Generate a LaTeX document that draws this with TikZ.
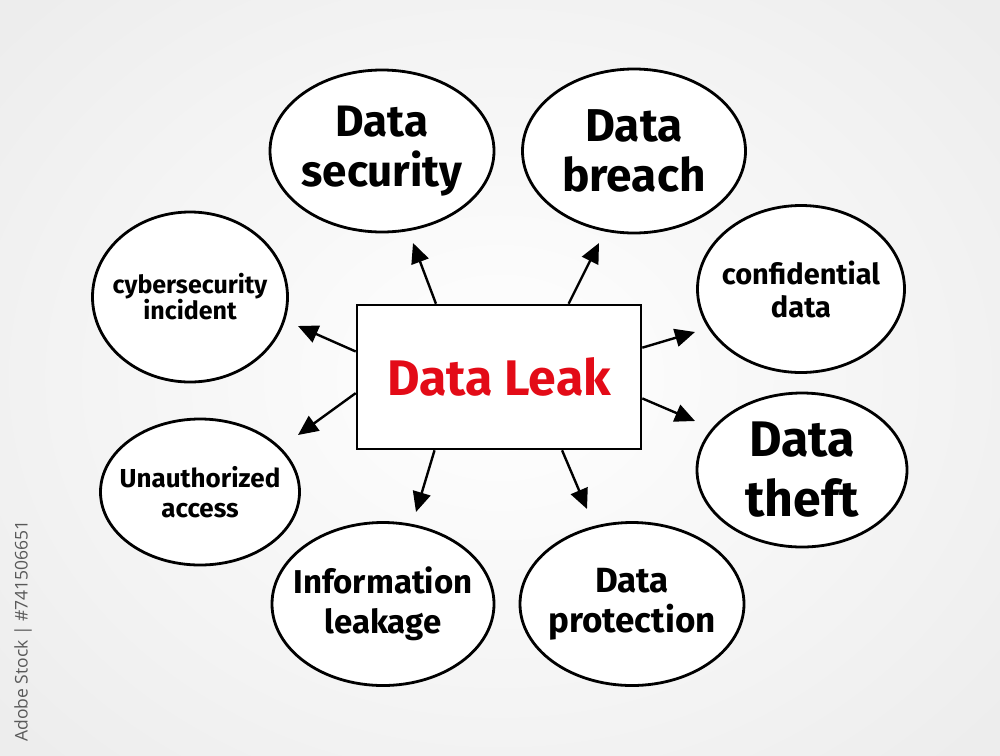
\documentclass[tikz,border=0pt]{standalone}
\usepackage{fontspec}
\setmainfont{Fira Sans}
\newfontfamily\wmfont{Open Sans}
\usetikzlibrary{arrows.meta,shapes.geometric,calc}
\definecolor{leakred}{HTML}{E30B17}
\begin{document}
\begin{tikzpicture}[x=1pt,y=-1pt,
  bub/.style={draw=black, line width=2.8pt, fill=white, ellipse, inner sep=0pt},
  txt/.style={align=center, text=black, font=\bfseries},
  arr/.style={draw=black, line width=2.4pt, -{Triangle[length=20pt,width=18pt]}},
  hub/.style={draw=black, line width=2.6pt, fill=white, rectangle, inner sep=0pt,
    minimum width=284pt, minimum height=144pt}]
\useasboundingbox (0,0) rectangle (1000,755);
\begin{scope}
\clip (0,0) rectangle (1000,755);
\shade[inner color=white, outer color=black!7] (-150,-150) rectangle (1150,905);
\end{scope}
\node[rotate=90, anchor=east, text=black!65, font=\wmfont\fontsize{17.5}{21}\selectfont, inner sep=0pt]
  (wm) at (23,520) {Adobe Stock | \#741506651};

% bubbles
\node[bub, minimum width=224pt, minimum height=162pt] (sec) at (382,151) {};
\node[bub, minimum width=223pt, minimum height=164pt] (bre) at (634,151) {};
\node[bub, minimum width=207pt, minimum height=167pt] (con) at (801,289) {};
\node[bub, minimum width=210pt, minimum height=154pt] (the) at (802,470) {};
\node[bub, minimum width=224pt, minimum height=163pt] (pro) at (632,604) {};
\node[bub, minimum width=222pt, minimum height=163pt] (inf) at (383,604) {};
\node[bub, minimum width=199pt, minimum height=146pt] (una) at (200,492) {};
\node[bub, minimum width=195pt, minimum height=170pt] (cyb) at (190,297) {};

% texts
\node[txt, font=\bfseries\fontsize{44}{50}\selectfont] at (sec) {Data\\security};
\node[txt, font=\bfseries\fontsize{46}{50}\selectfont] at (bre) {Data\\breach};
\node[txt, font=\bfseries\fontsize{29}{33}\selectfont] at (con) {confidential\\data};
\node[txt, font=\bfseries\fontsize{50}{60}\selectfont] at (the) {Data\\theft};
\node[txt, font=\bfseries\fontsize{35}{40}\selectfont] at (pro) {Data\\protection};
\node[txt, font=\bfseries\fontsize{33}{40}\selectfont] at (inf) {Information\\leakage};
\node[txt, font=\bfseries\fontsize{26}{30}\selectfont] at (una) {Unauthorized\\access};
\node[txt, font=\bfseries\fontsize{25}{26}\selectfont] at (cyb) {cybersecurity\\incident};

% hub
\node[hub] (box) at (499,377) {};
\node[text=leakred, font=\bfseries\fontsize{50}{56}\selectfont] (lbl) at (box) {Data Leak};

% arrow tips
\coordinate (t1) at (413,243);
\coordinate (t2) at (599,243);
\coordinate (t3) at (298,326);
\coordinate (t4) at (298,435);
\coordinate (t5) at (695,332);
\coordinate (t6) at (695,421);
\coordinate (t7) at (416,512);
\coordinate (t8) at (587,509);

\draw[arr] ($(box.north west)!0.28!(box.north east)$) -- (t1);
\draw[arr] ($(box.north west)!0.743!(box.north east)$) -- (t2);
\draw[arr] ($(box.north west)!0.326!(box.south west)$) -- (t3);
\draw[arr] ($(box.north west)!0.61!(box.south west)$) -- (t4);
\draw[arr] ($(box.north east)!0.30!(box.south east)$) -- (t5);
\draw[arr] ($(box.north east)!0.646!(box.south east)$) -- (t6);
\draw[arr] ($(box.south west)!0.275!(box.south east)$) -- (t7);
\draw[arr] ($(box.south west)!0.72!(box.south east)$) -- (t8);
\end{tikzpicture}
\end{document}
